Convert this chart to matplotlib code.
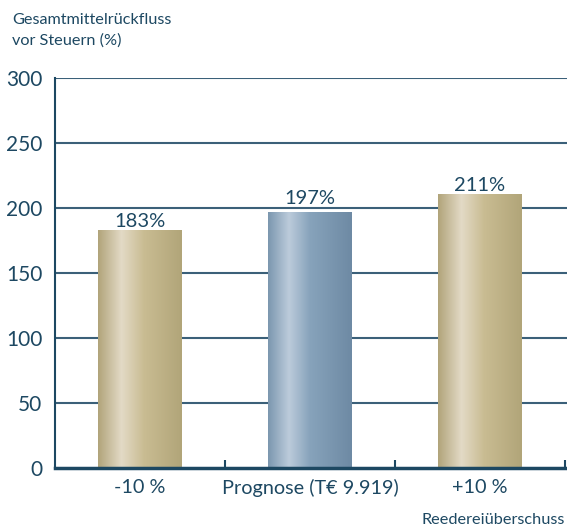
import numpy as np
import matplotlib
matplotlib.use("Agg")
import matplotlib.pyplot as plt
from matplotlib.colors import LinearSegmentedColormap
from matplotlib.transforms import offset_copy

categories = ["-10 %", "Prognose (T€ 9.919)", "+10 %"]
values = [183, 197, 211]
value_labels = ["183%", "197%", "211%"]
y_ticks = [0, 50, 100, 150, 200, 250, 300]

navy = "#1d4862"
grid_c = "#3b6079"

plt.rcParams["font.family"] = ["Lato", "DejaVu Sans"]

gold = LinearSegmentedColormap.from_list(
    "gold", [(0.0, "#b1a47a"), (0.28, "#e3dac6"), (0.55, "#c9bc92"), (1.0, "#b1a579")])
steel = LinearSegmentedColormap.from_list(
    "steel", [(0.0, "#7b97af"), (0.25, "#bccbdb"), (0.5, "#87a3bb"), (1.0, "#6e8aa4")])
bar_maps = [gold, steel, gold]
# vertical gap (points) between bar top and its value label
label_gaps = [2.0, 5.5, 2.0]

fig = plt.figure(figsize=(5.67, 5.29), dpi=100)
ax = fig.add_axes([55 / 567, 61 / 529, 512 / 567, 390 / 529])

ax.set_xlim(-0.5, 2.5 + 2 / 170)
ax.set_ylim(0, 300)

for y in y_ticks[1:]:
    ax.axhline(y, color=grid_c, lw=1.5, zorder=1)

width = 0.49
bars = ax.bar(range(len(values)), values, width=width, color="none", zorder=2)
grad = np.linspace(0, 1, 256).reshape(1, -1)
for i, (b, cm) in enumerate(zip(bars, bar_maps)):
    x0 = b.get_x()
    im = ax.imshow(grad, cmap=cm, aspect="auto",
                   extent=[x0, x0 + b.get_width(), 0, b.get_height()],
                   zorder=2, interpolation="bilinear")
    im.set_clip_path(b)
    tr = offset_copy(ax.transData, fig=fig, x=0, y=label_gaps[i], units="points")
    ax.text(i, values[i], value_labels[i], ha="center", va="baseline",
            fontsize=14.5, color=navy, zorder=3, transform=tr)

for s in ["top", "right"]:
    ax.spines[s].set_visible(False)
ax.spines["left"].set_color(navy)
ax.spines["left"].set_linewidth(1.5)
ax.spines["bottom"].set_color(navy)
ax.spines["bottom"].set_linewidth(2.5)
ax.spines["bottom"].set_bounds(-0.5, 2.5)
ax.spines["bottom"].set_zorder(4)

ax.set_yticks(y_ticks)
ax.set_yticklabels([str(v) for v in y_ticks])
ax.tick_params(axis="y", length=0, pad=9, labelsize=15, labelcolor=navy)

ax.set_xticks(range(len(categories)))
ax.set_xticklabels(categories)
ax.tick_params(axis="x", which="major", length=0, pad=8, labelsize=14.3, labelcolor=navy)
ax.set_xticks([0.5, 1.5, 2.5], minor=True)
ax.tick_params(axis="x", which="minor", direction="in", length=6, width=1.5, color=navy)

fig.text(12 / 567, 1 - 30 / 529, "Gesamtmittelrückfluss\nvor Steuern (%)",
         ha="left", va="center", fontsize=11.7, color=navy, linespacing=1.55)
fig.text(565 / 567, 1 - 520 / 529, "Reedereiüberschuss",
         ha="right", va="center", fontsize=11.7, color=navy)

fig.savefig("out.png", dpi=100)
